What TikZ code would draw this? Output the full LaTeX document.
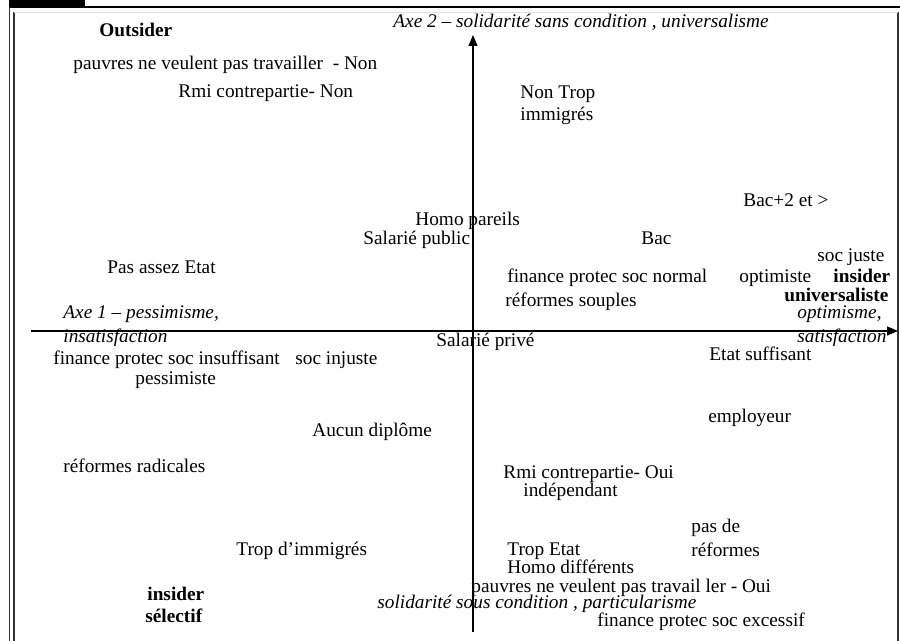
\documentclass[tikz,border=0pt]{standalone}
\usepackage{fontspec}
\setmainfont{Liberation Serif}
\usetikzlibrary{arrows.meta}
\begin{document}
\begin{tikzpicture}[x=0.5pt,y=-0.5pt,
  lbl/.style={anchor=base west,inner sep=0pt,font=\fontsize{9.65}{11}\selectfont},
  itl/.style={lbl,font=\fontsize{9.65}{11}\selectfont\itshape},
  bld/.style={lbl,font=\fontsize{9.65}{11}\selectfont\bfseries},
  axisline/.style={line width=0.7pt,-{Triangle[length=5.5pt,width=4.5pt]}},
  frameline/.style={line width=0.8pt,draw=black!80}]
\useasboundingbox (0,0) rectangle (900,641);
% frame
\fill (9,0) rectangle (85,7);
\draw[line width=0.9pt] (9,7) -- (900,7);
\draw[frameline] (9.5,7) -- (9.5,641);
\draw[frameline] (14,12) -- (14,641);
\draw[frameline] (898,12) -- (898,641);
\draw[line width=0.3pt,draw=black!12] (14,12) -- (898,12);
% axes
\coordinate (xl) at (31,331);
\coordinate (xr) at (898,331);
\coordinate (yb) at (473,632);
\coordinate (yt) at (473,35);
\draw[axisline] (xl) -- (xr);
\draw[axisline] (yb) -- (yt);
% labels
\node[bld] (outsider) at (99,37) {Outsider};
\node[lbl] (pnon) at (73,70) {pauvres ne veulent pas travailler\ \ - Non};
\node[lbl] (rminon) at (178,98) {Rmi contrepartie- Non};
\node[itl] (axe2) at (393,28) {Axe 2 – solidarité sans condition , universalisme};
\node[lbl] (nontrop) at (520,99) {Non Trop};
\node[lbl] (immig) at (520,121) {immigrés};
\node[lbl] (bac2) at (743,207) {Bac+2 et >};
\node[lbl] (homop) at (415,226) {Homo pareils};
\node[lbl] (salpub) at (363,245) {Salarié public};
\node[lbl] (bac) at (641,245) {Bac};
\node[lbl] (socjuste) at (817,262) {soc juste};
\node[lbl] (pasassez) at (107,274) {Pas assez Etat};
\node[lbl] (fpsnormal) at (507,283) {finance protec soc normal};
\node[lbl] (optimiste) at (739,283) {optimiste};
\node[bld] (insider1) at (833,283) {insider};
\node[bld] (univ) at (784,302) {universaliste};
\node[lbl] (refsoup) at (505,307) {réformes souples};
\node[itl] (axe1) at (63,319) {Axe 1 – pessimisme,};
\node[itl] (optimisme) at (797,319) {optimisme,};
\node[itl] (insatis) at (63,343) {insatisfaction};
\node[itl] (satis) at (797,343) {satisfaction};
\node[lbl] (salpriv) at (436,347) {Salarié privé};
\node[lbl] (fpsinsuf) at (53,365) {finance protec soc insuffisant};
\node[lbl] (socinj) at (295,365) {soc injuste};
\node[lbl] (etatsuf) at (709,361) {Etat suffisant};
\node[lbl] (pessimiste) at (135,385) {pessimiste};
\node[lbl] (employeur) at (708,423) {employeur};
\node[lbl] (aucun) at (312,437) {Aucun diplôme};
\node[lbl] (refrad) at (63,473) {réformes radicales};
\node[lbl] (rmioui) at (503,479) {Rmi contrepartie- Oui};
\node[lbl] (indep) at (523,497) {indépendant};
\node[lbl] (pasde) at (691,533) {pas de};
\node[lbl] (reformes) at (691,557) {réformes};
\node[lbl] (tropimm) at (236,555) {Trop d’immigrés};
\node[lbl] (tropetat) at (507,556) {Trop Etat};
\node[lbl] (homod) at (507,574) {Homo différents};
\node[lbl] (poui) at (471,592) {pauvres ne veulent pas travail ler - Oui};
\node[bld] (insider2) at (147,600) {insider};
\node[itl] (solsous) at (377,609) {solidarité sous condition , particularisme};
\node[bld] (selectif) at (145,623) {sélectif};
\node[lbl] (fpsexc) at (597,626) {finance protec soc excessif};
\end{tikzpicture}
\end{document}
